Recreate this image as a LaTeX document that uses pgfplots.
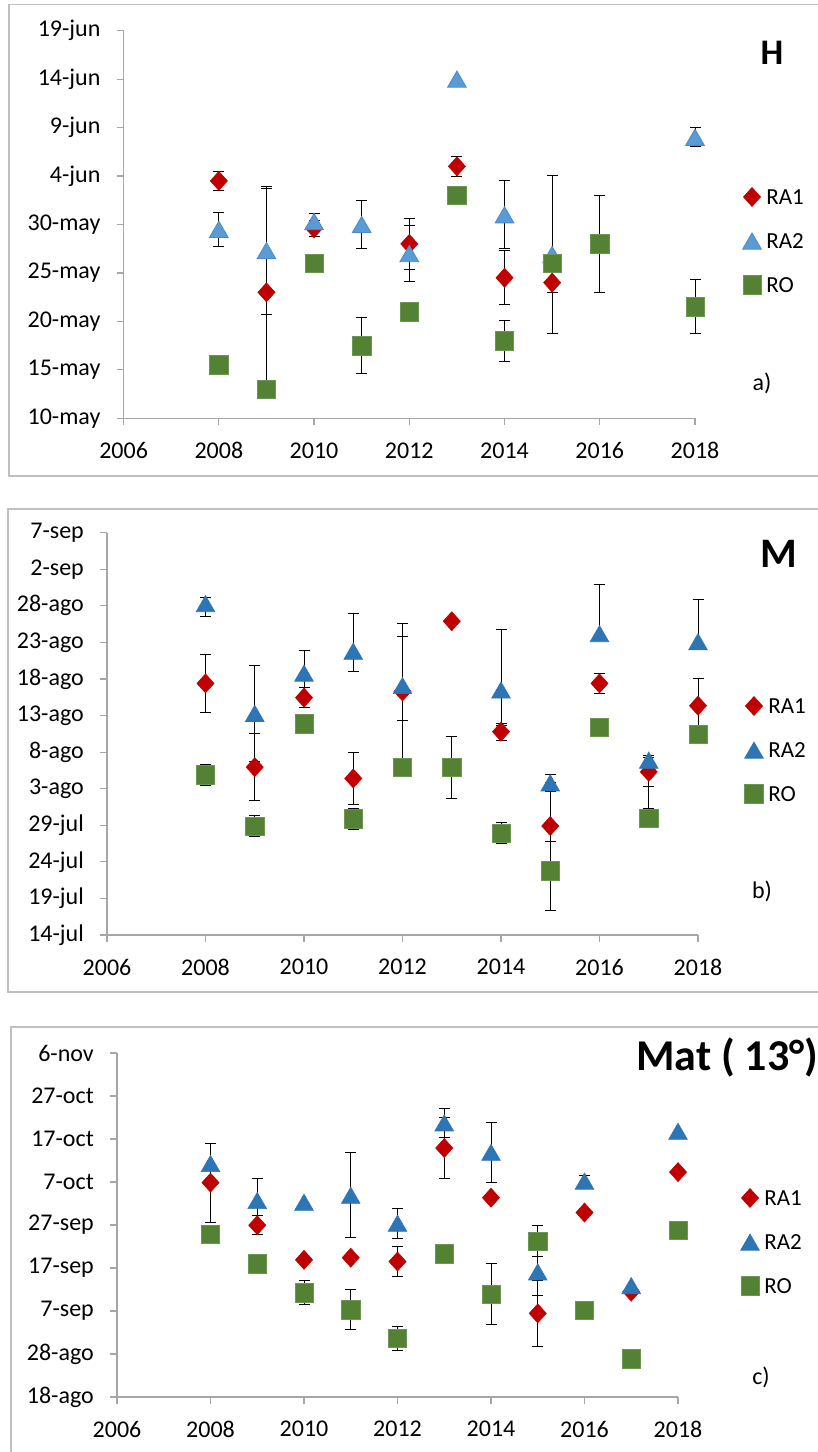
\documentclass[border=0pt]{standalone}
\usepackage{fontspec}
\setmainfont{Carlito}
\usepackage{pgfplots}
\pgfplotsset{compat=1.18}
\definecolor{ra1}{HTML}{C00000}
\definecolor{ra2a}{HTML}{5B9BD5}
\definecolor{ra2ad}{HTML}{4A8AC8}
\definecolor{ra2}{HTML}{2E75B6}
\definecolor{ro}{HTML}{548235}
\definecolor{axgray}{HTML}{A6A6A6}
\definecolor{frgray}{HTML}{BFBFBF}
\pgfplotsset{
  panel/.style={
    scale only axis, anchor=south west, clip=false,
    xmin=2006, xmax=2018,
    axis x line=bottom, axis y line=left,
    axis line style={-, draw=axgray, line width=1.2pt},
    tick align=outside, major tick length=7pt,
    major tick style={draw=axgray, line width=1.2pt},
    xtick={2006,2008,...,2018},
    xticklabels={2006,2008,2010,2012,2014,2016,2018},
    tick label style={font=\fontsize{24}{24}\selectfont, inner sep=0pt},
    yticklabel style={anchor=east, xshift=-16pt},
    xticklabel style={anchor=north, yshift=-17pt},
    legend cell align=left,
    legend style={draw=none, fill=none, inner sep=0pt, outer sep=0pt, anchor=north west,
      font=\fontsize{23}{23}\selectfont, row sep=26.5pt,
      nodes={inner sep=0pt, text height=15pt, text depth=0pt},
      /tikz/every odd column/.append style={column sep=5pt}},
  },
  ebar/.style={only marks, mark=none, forget plot,
    error bars/.cd, y dir=both, y explicit,
    error bar style={black, line width=1pt, solid},
    error mark options={rotate=90, black, line width=1pt, mark size=5.5pt}},
  lim/.style={legend image code/.code={\draw[##1] plot coordinates {(0pt,0pt)};}},
  mra1/.style={only marks, mark=diamond*, mark size=9.5pt,
    mark options={xscale=1.2, fill=ra1, draw=ra1, line width=0.6pt, solid}, lim},
  mra2a/.style={only marks, mark=triangle*, mark size=10.8pt,
    mark options={yshift=-2.7pt, fill=ra2a, draw=ra2ad, line width=0.8pt, solid}, lim},
  mra2/.style={only marks, mark=triangle*, mark size=10.8pt,
    mark options={yshift=-2.7pt, fill=ra2, draw=ra2, line width=0.6pt, solid}, lim},
  mro/.style={only marks, mark=square*, mark size=9.2pt,
    mark options={fill=ro, draw=ro!85!white, line width=0.6pt, solid}, lim},
}
\begin{document}
\begin{tikzpicture}
\useasboundingbox (0pt,0pt) rectangle (818pt,1452pt);
% frames
\draw[frgray, line width=1.5pt] (830pt,1447.5pt) -- (9pt,1447.5pt) -- (9pt,976pt) -- (830pt,976pt);
\draw[frgray, line width=1.5pt] (830pt,943pt) -- (8pt,943pt) -- (8pt,460pt) -- (830pt,460pt);
\draw[frgray, line width=1.5pt] (830pt,425pt) -- (11pt,425pt) -- (11pt,-8pt);

% ---------------- Panel a (H)
\begin{axis}[panel, at={(123.6pt,1033.7pt)}, width=571.4pt, height=387.6pt,
  ymin=0, ymax=40, ytick={0,5,...,40},
  yticklabels={10-may,15-may,20-may,25-may,30-may,4-jun,9-jun,14-jun,19-jun},
  legend style={at={(1.0834,0.5955)}}]
\addplot[ebar] table[x=x,y=y,y error plus=ep,y error minus=em,row sep=\\]{
x y ep em\\ 2008 24.5 1.0 1.0\\ 2009 13.0 10.7 10.7\\ 2010 19.6 0.8 0.8\\ 2012 18.0 2.6 2.6\\
2013 26.0 1.0 1.0\\ 2014 14.5 2.8 2.8\\ 2015 14.0 1.0 1.0\\};
\addplot[ebar] table[x=x,y=y,y error plus=ep,y error minus=em,row sep=\\]{
x y ep em\\ 2008 19.5 1.75 1.75\\ 2009 17.3 6.6 6.6\\ 2010 20.3 0.8 0.8\\ 2011 20.0 2.5 2.5\\
2012 17.0 2.9 2.9\\ 2014 21.0 3.5 3.5\\ 2015 16.9 8.15 8.15\\ 2018 29.0 1.0 1.0\\};
\addplot[ebar] table[x=x,y=y,y error plus=ep,y error minus=em,row sep=\\]{
x y ep em\\ 2011 7.5 2.85 2.85\\ 2014 8.0 2.1 2.1\\ 2016 18.0 5.0 5.0\\ 2018 11.5 2.8 2.8\\};
\addplot[mra1] table[row sep=\\]{x y\\ 2008 24.5\\ 2009 13.0\\ 2010 19.6\\ 2012 18.0\\ 2013 26.0\\ 2014 14.5\\ 2015 14.0\\};
\addlegendentry{RA1}
\addplot[mra2a] table[row sep=\\]{x y\\ 2008 19.5\\ 2009 17.3\\ 2010 20.3\\ 2011 20.0\\ 2012 17.0\\ 2013 35.0\\ 2014 21.0\\ 2015 16.9\\ 2018 29.0\\};
\addlegendentry{RA2}
\addplot[mro] table[row sep=\\]{x y\\ 2008 5.5\\ 2009 3.0\\ 2010 16.0\\ 2011 7.5\\ 2012 11.0\\ 2013 23.0\\ 2014 8.0\\ 2015 16.0\\ 2016 18.0\\ 2018 11.5\\};
\addlegendentry{RO}
\end{axis}

% ---------------- Panel b (M)
\begin{axis}[panel, at={(107pt,517pt)}, width=591pt, height=402.3pt,
  ymin=0, ymax=55, ytick={0,5,...,55},
  yticklabels={14-jul,19-jul,24-jul,29-jul,3-ago,8-ago,13-ago,18-ago,23-ago,28-ago,2-sep,7-sep},
  legend style={at={(1.0789,0.5928)}}]
\addplot[ebar] table[x=x,y=y,y error plus=ep,y error minus=em,row sep=\\]{
x y ep em\\ 2008 34.4 4.0 4.0\\ 2009 22.95 4.55 4.55\\ 2010 32.45 1.35 1.35\\ 2011 21.4 3.5 3.5\\
2012 33.3 7.5 10.4\\ 2014 27.8 1.15 1.15\\ 2015 14.9 5.9 2.05\\ 2016 34.4 1.4 1.4\\
2017 22.3 2.0 2.0\\ 2018 31.35 3.65 3.65\\};
\addplot[ebar] table[x=x,y=y,y error plus=ep,y error minus=em,row sep=\\]{
x y ep em\\ 2008 45.3 0.8 1.7\\ 2009 30.3 6.6 6.6\\ 2010 35.8 3.1 3.1\\ 2011 38.8 5.1 2.8\\
2012 34.1 8.5 4.75\\ 2014 33.5 8.2 4.9\\ 2015 20.8 1.15 1.15\\ 2016 41.2 6.7 0.8\\
2017 23.9 0.6 6.6\\ 2018 40.1 5.7 0.8\\};
\addplot[ebar] table[x=x,y=y,y error plus=ep,y error minus=em,row sep=\\]{
x y ep em\\ 2008 21.9 1.4 1.4\\ 2009 14.9 1.4 1.4\\ 2011 15.9 1.45 1.45\\ 2013 22.9 4.3 4.3\\
2014 13.9 1.45 1.45\\ 2015 8.8 4.05 5.5\\};
\addplot[mra1] table[row sep=\\]{x y\\ 2008 34.4\\ 2009 22.95\\ 2010 32.45\\ 2011 21.4\\ 2012 33.3\\ 2013 42.9\\ 2014 27.8\\ 2015 14.9\\ 2016 34.4\\ 2017 22.3\\ 2018 31.35\\};
\addlegendentry{RA1}
\addplot[mra2] table[row sep=\\]{x y\\ 2008 45.3\\ 2009 30.3\\ 2010 35.8\\ 2011 38.8\\ 2012 34.1\\ 2014 33.5\\ 2015 20.8\\ 2016 41.2\\ 2017 23.9\\ 2018 40.1\\};
\addlegendentry{RA2}
\addplot[mro] table[row sep=\\]{x y\\ 2008 21.9\\ 2009 14.9\\ 2010 28.9\\ 2011 15.9\\ 2012 22.9\\ 2013 22.9\\ 2014 13.9\\ 2015 8.8\\ 2016 28.4\\ 2017 15.95\\ 2018 27.4\\};
\addlegendentry{RO}
\end{axis}

% ---------------- Panel c (Mat)
\begin{axis}[panel, at={(117pt,55pt)}, width=561pt, height=344pt,
  ymin=0, ymax=80, ytick={0,10,...,80},
  yticklabels={18-ago,28-ago,7-sep,17-sep,27-sep,7-oct,17-oct,27-oct,6-nov},
  legend style={at={(1.1117,0.6061)}}]
\addplot[ebar] table[x=x,y=y,y error plus=ep,y error minus=em,row sep=\\]{
x y ep em\\ 2008 49.85 9.2 9.2\\ 2009 39.95 2.15 2.15\\ 2012 31.5 3.55 3.55\\ 2013 57.9 7.05 7.05\\
2015 19.45 7.75 7.75\\};
\addplot[ebar] table[x=x,y=y,y error plus=ep,y error minus=em,row sep=\\]{
x y ep em\\ 2009 45.7 5.1 5.1\\ 2011 46.9 9.9 9.9\\ 2012 40.4 3.5 3.5\\ 2013 63.75 3.45 3.45\\
2014 56.9 7.05 7.05\\ 2015 29.1 5.4 5.4\\ 2016 50.2 1.2 1.2\\};
\addplot[ebar] table[x=x,y=y,y error plus=ep,y error minus=em,row sep=\\]{
x y ep em\\ 2010 24.2 2.8 2.8\\ 2011 20.25 4.65 4.65\\ 2012 13.6 2.8 2.8\\ 2014 23.95 7.15 7.15\\
2015 36.2 3.6 3.6\\};
\addplot[mra1] table[row sep=\\]{x y\\ 2008 49.85\\ 2009 39.95\\ 2010 31.9\\ 2011 32.4\\ 2012 31.5\\ 2013 57.9\\ 2014 46.35\\ 2015 19.45\\ 2016 42.9\\ 2017 24.5\\ 2018 52.3\\};
\addlegendentry{RA1}
\addplot[mra2] table[row sep=\\]{x y\\ 2008 54.3\\ 2009 45.7\\ 2010 45.3\\ 2011 46.9\\ 2012 40.4\\ 2013 63.75\\ 2014 56.9\\ 2015 29.1\\ 2016 50.2\\ 2017 25.9\\ 2018 61.8\\};
\addlegendentry{RA2}
\addplot[mro] table[row sep=\\]{x y\\ 2008 37.8\\ 2009 31.0\\ 2010 24.2\\ 2011 20.25\\ 2012 13.6\\ 2013 33.3\\ 2014 23.95\\ 2015 36.2\\ 2016 20.2\\ 2017 8.9\\ 2018 38.8\\};
\addlegendentry{RO}
\end{axis}

% titles and panel letters
\node[anchor=base, inner sep=0pt, font=\fontsize{36}{36}\selectfont\bfseries] at (772pt,1387pt) {H};
\node[anchor=base, inner sep=0pt, font=\fontsize{42}{42}\selectfont\bfseries] at (778.5pt,884.7pt) {M};
\node[anchor=base west, inner sep=0pt, font=\fontsize{44}{44}\selectfont\bfseries] at (636pt,381.3pt) {Mat ( 13°)};
\node[anchor=center, inner sep=0pt, font=\fontsize{24}{24}\selectfont] at (762pt,1069pt) {a)};
\node[anchor=center, inner sep=0pt, font=\fontsize{24}{24}\selectfont] at (762pt,561pt) {b)};
\node[anchor=center, inner sep=0pt, font=\fontsize{24}{24}\selectfont] at (761pt,75pt) {c)};
\end{tikzpicture}
\end{document}
